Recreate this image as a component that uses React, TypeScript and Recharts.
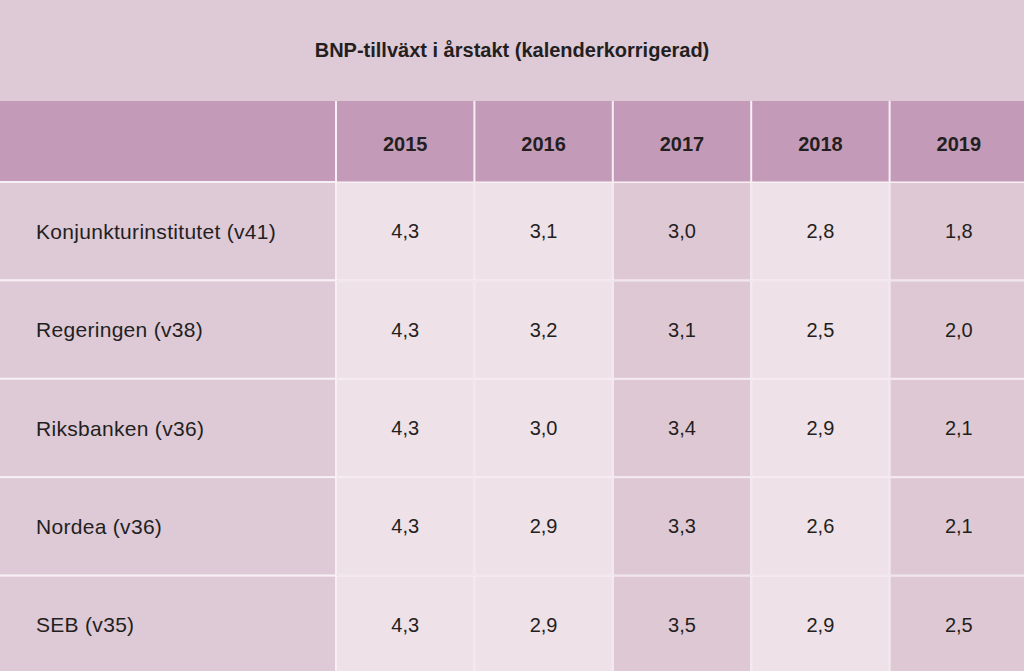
import React from 'react'
import { ScatterChart, Scatter, XAxis, YAxis } from 'recharts'

// values (BNP growth, percent)
const years = ['2015', '2016', '2017', '2018', '2019']
const sources = ['Konjunkturinstitutet (v41)', 'Regeringen (v38)', 'Riksbanken (v36)', 'Nordea (v36)', 'SEB (v35)']
const konjunkturinstitutet = [4.3, 3.1, 3.0, 2.8, 1.8]
const regeringen = [4.3, 3.2, 3.1, 2.5, 2.0]
const riksbanken = [4.3, 3.0, 3.4, 2.9, 2.1]
const nordea = [4.3, 2.9, 3.3, 2.6, 2.1]
const seb = [4.3, 2.9, 3.5, 2.9, 2.5]

const rows = [konjunkturinstitutet, regeringen, riksbanken, nordea, seb]
const cells = rows.flatMap((vals, r) => vals.map((v, c) => ({ col: c, row: r, value: v })))

const TITLE_BG = '#dec9d6'
const HEADER_BG = '#c39bb9'
const LIGHT = '#efe1e8'
const DARK = '#dec8d4'
const LINE = '#f8eff4'
const INK = '#231f20'
const FONT = '"Liberation Sans", Arial, Helvetica, sans-serif'

const CHART_W = 1028
const CHART_H = 573
const HEAD_H = 81
const LABEL_W = 336
const CELL_W = (CHART_W - LABEL_W) / years.length
const CELL_H = (CHART_H - HEAD_H) / sources.length

const fmt = (v: number) => v.toFixed(1).replace('.', ',')

function YearTick(props: any) {
  const { x, payload } = props
  return (
    <g>
      <rect x={x - CELL_W / 2 - 1} y={0} width={2} height={HEAD_H} fill={LINE} />
      <text x={x} y={43} textAnchor="middle" dominantBaseline="central"
        fontFamily={FONT} fontSize={20} fontWeight={700} fill={INK}>
        {years[payload.value]}
      </text>
    </g>
  )
}

function SourceTick(props: any) {
  const { y, payload } = props
  return (
    <g>
      <rect x={0} y={y - CELL_H / 2 - 1} width={LABEL_W} height={CELL_H + 2} fill={LINE} />
      <rect x={0} y={y - CELL_H / 2 + 1} width={LABEL_W - 1} height={CELL_H - 2} fill={TITLE_BG} />
      <text x={36} y={y} dominantBaseline="central" fontFamily={FONT} fontSize={21}
        letterSpacing={0.3} fill={INK}>
        {sources[payload.value]}
      </text>
    </g>
  )
}

function Cell(props: any) {
  const { cx, cy, payload } = props
  const dark = payload.col === 2 || payload.col === 4
  return (
    <g>
      <rect x={cx - CELL_W / 2} y={cy - CELL_H / 2} width={CELL_W} height={CELL_H} fill={LINE} />
      <rect x={cx - CELL_W / 2 + 1} y={cy - CELL_H / 2 + 1} width={CELL_W - 2} height={CELL_H - 2}
        fill={dark ? DARK : LIGHT} />
      <text x={cx} y={cy} textAnchor="middle" dominantBaseline="central"
        fontFamily={FONT} fontSize={20} fill={INK}>
        {fmt(payload.value)}
      </text>
    </g>
  )
}

export default function App() {
  return (
    <div style={{ width: 1024, height: 671, overflow: 'hidden', position: 'relative', background: TITLE_BG }}>
      <style>{'body{margin:0}'}</style>
      <div style={{
        position: 'absolute', top: 0, left: 0, width: 1024, height: 101,
        display: 'flex', alignItems: 'center', justifyContent: 'center',
        fontFamily: FONT, fontSize: 20, fontWeight: 700, color: INK,
      }}>
        BNP-tillväxt i årstakt (kalenderkorrigerad)
      </div>
      <div style={{ position: 'absolute', top: 101, left: 0, width: 1024, height: HEAD_H - 1, background: HEADER_BG }} />
      <div style={{ position: 'absolute', top: 101, left: 0 }}>
        <ScatterChart width={CHART_W} height={CHART_H} margin={{ top: 0, right: 0, bottom: 0, left: 0 }}>
          <XAxis type="number" dataKey="col" orientation="top" height={HEAD_H}
            domain={[-0.5, years.length - 0.5]} ticks={years.map((_, i) => i)}
            axisLine={false} tickLine={false} tick={<YearTick />} interval={0} />
          <YAxis type="number" dataKey="row" width={LABEL_W} reversed
            domain={[-0.5, sources.length - 0.5]} ticks={sources.map((_, i) => i)}
            axisLine={false} tickLine={false} tick={<SourceTick />} interval={0} />
          <Scatter data={cells} shape={<Cell />} isAnimationActive={false} />
        </ScatterChart>
      </div>
    </div>
  )
}
